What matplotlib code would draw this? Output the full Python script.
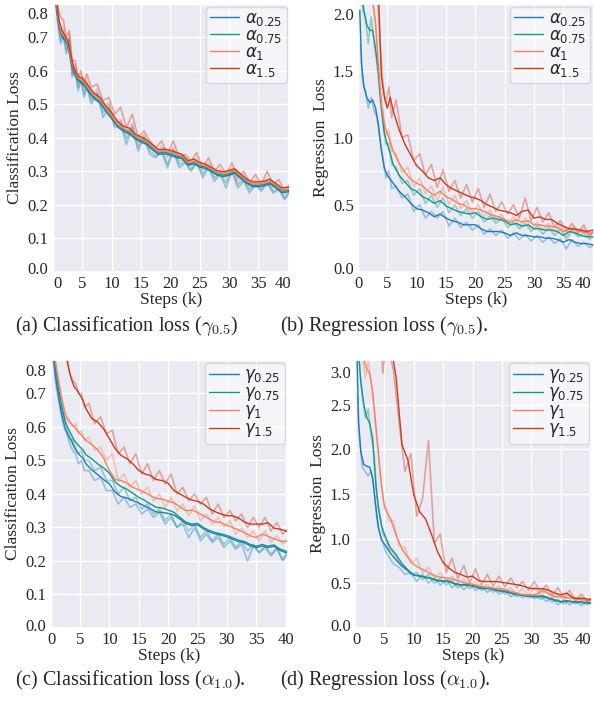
import matplotlib.pyplot as plt
import numpy as np
import seaborn as sns
from matplotlib.ticker import MultipleLocator
from matplotlib.transforms import ScaledTranslation

# training steps (k) for the smoothed curves
steps = [0.3, 0.6, 1.0, 1.5, 2.0, 2.5, 3.0, 3.5, 4.0, 4.5, 5.0, 5.5,
         6, 7, 8, 9, 10, 11, 12, 13, 14, 15, 16, 17,
         18, 19, 20, 21, 22, 23, 24, 25, 26, 27, 28, 29,
         30, 31, 32, 33, 34, 35, 36, 37, 38, 39, 40, 41]
# training steps (k) for the raw (unsmoothed) curves
raw_steps = [0.45, 0.8, 1.25, 1.75, 2.25, 2.75, 3.25, 3.75, 4.25, 4.75, 5.25, 5.75,
             6.5, 7.5, 8.5, 9.5, 10.5, 11.5, 12.5, 13.5, 14.5, 15.5, 16.5, 17.5,
             18.5, 19.5, 20.5, 21.5, 22.5, 23.5, 24.5, 25.5, 26.5, 27.5, 28.5, 29.5,
             30.5, 31.5, 32.5, 33.5, 34.5, 35.5, 36.5, 37.5, 38.5, 39.5, 40.5, 41.5]

# (a) classification loss, alpha sweep
cls_a025 = [0.84, 0.78, 0.73, 0.70, 0.69, 0.675, 0.63, 0.594, 0.576, 0.566, 0.56, 0.55,
            0.538, 0.516, 0.503, 0.478, 0.456, 0.432, 0.419, 0.411, 0.396, 0.387, 0.379, 0.363,
            0.35, 0.352, 0.347, 0.341, 0.337, 0.318, 0.322, 0.312, 0.308, 0.298, 0.288, 0.284,
            0.288, 0.294, 0.278, 0.264, 0.254, 0.254, 0.256, 0.262, 0.25, 0.236, 0.238, 0.242]
cls_a075 = [0.85, 0.79, 0.735, 0.705, 0.695, 0.68, 0.635, 0.598, 0.58, 0.57, 0.565, 0.554,
            0.543, 0.52, 0.507, 0.482, 0.46, 0.436, 0.423, 0.415, 0.40, 0.392, 0.383, 0.367,
            0.354, 0.357, 0.351, 0.345, 0.341, 0.322, 0.326, 0.316, 0.312, 0.302, 0.292, 0.288,
            0.292, 0.298, 0.282, 0.268, 0.258, 0.258, 0.26, 0.266, 0.254, 0.24, 0.242, 0.246]
cls_a1 = [0.86, 0.80, 0.74, 0.71, 0.70, 0.685, 0.64, 0.605, 0.585, 0.575, 0.57, 0.56,
          0.548, 0.525, 0.512, 0.488, 0.465, 0.44, 0.428, 0.42, 0.405, 0.396, 0.388, 0.372,
          0.358, 0.362, 0.356, 0.35, 0.345, 0.326, 0.33, 0.32, 0.316, 0.306, 0.296, 0.292,
          0.296, 0.302, 0.286, 0.272, 0.262, 0.262, 0.264, 0.27, 0.258, 0.244, 0.246, 0.25]
cls_a15 = [0.87, 0.81, 0.75, 0.72, 0.705, 0.69, 0.65, 0.61, 0.59, 0.58, 0.578, 0.566,
           0.555, 0.532, 0.52, 0.494, 0.474, 0.448, 0.434, 0.428, 0.41, 0.402, 0.393, 0.378,
           0.364, 0.366, 0.362, 0.356, 0.35, 0.331, 0.336, 0.326, 0.321, 0.311, 0.301, 0.298,
           0.302, 0.307, 0.291, 0.277, 0.268, 0.268, 0.27, 0.276, 0.263, 0.25, 0.252, 0.256]
cls_a025_raw = [0.80, 0.74, 0.68, 0.70, 0.65, 0.69, 0.58, 0.60, 0.54, 0.57, 0.52, 0.55,
                0.50, 0.53, 0.46, 0.49, 0.43, 0.44, 0.38, 0.43, 0.36, 0.40, 0.35, 0.34,
                0.36, 0.31, 0.36, 0.31, 0.325, 0.30, 0.325, 0.28, 0.31, 0.27, 0.29, 0.25,
                0.30, 0.25, 0.27, 0.235, 0.26, 0.24, 0.265, 0.235, 0.245, 0.215, 0.24, 0.23]
cls_a075_raw = [0.81, 0.75, 0.69, 0.71, 0.66, 0.70, 0.59, 0.61, 0.55, 0.58, 0.53, 0.56,
                0.51, 0.535, 0.475, 0.50, 0.44, 0.45, 0.395, 0.435, 0.37, 0.405, 0.36, 0.345,
                0.365, 0.32, 0.365, 0.32, 0.33, 0.305, 0.33, 0.29, 0.315, 0.28, 0.295, 0.265,
                0.305, 0.26, 0.275, 0.245, 0.265, 0.245, 0.27, 0.24, 0.25, 0.22, 0.245, 0.235]
cls_a1_raw = [0.82, 0.76, 0.70, 0.73, 0.67, 0.71, 0.60, 0.62, 0.56, 0.59, 0.54, 0.575,
              0.52, 0.545, 0.49, 0.505, 0.45, 0.455, 0.41, 0.445, 0.38, 0.41, 0.37, 0.355,
              0.375, 0.34, 0.37, 0.33, 0.335, 0.315, 0.34, 0.30, 0.325, 0.29, 0.305, 0.28,
              0.31, 0.27, 0.285, 0.255, 0.275, 0.25, 0.28, 0.25, 0.26, 0.23, 0.255, 0.24]
cls_a15_raw = [0.84, 0.79, 0.76, 0.75, 0.70, 0.72, 0.63, 0.63, 0.58, 0.60, 0.56, 0.59,
               0.55, 0.56, 0.51, 0.52, 0.47, 0.49, 0.43, 0.47, 0.40, 0.42, 0.39, 0.37,
               0.39, 0.35, 0.39, 0.34, 0.35, 0.33, 0.355, 0.31, 0.34, 0.30, 0.32, 0.29,
               0.325, 0.28, 0.30, 0.265, 0.29, 0.26, 0.30, 0.26, 0.275, 0.24, 0.265, 0.25]

# (b) regression loss, alpha sweep
reg_a025 = [1.95, 1.55, 1.38, 1.30, 1.26, 1.28, 1.22, 1.09, 0.90, 0.77, 0.72, 0.69,
            0.66, 0.60, 0.56, 0.51, 0.47, 0.46, 0.44, 0.41, 0.43, 0.40, 0.38, 0.37,
            0.35, 0.35, 0.35, 0.32, 0.30, 0.30, 0.30, 0.29, 0.27, 0.29, 0.27, 0.27,
            0.26, 0.26, 0.25, 0.25, 0.24, 0.22, 0.24, 0.22, 0.21, 0.21, 0.20, 0.21]
reg_a075 = [2.3, 2.1, 1.95, 1.84, 1.80, 1.80, 1.66, 1.47, 1.22, 1.03, 0.95, 0.88,
            0.80, 0.72, 0.67, 0.62, 0.60, 0.56, 0.54, 0.51, 0.53, 0.49, 0.47, 0.45,
            0.44, 0.43, 0.44, 0.41, 0.39, 0.40, 0.39, 0.38, 0.35, 0.36, 0.34, 0.35,
            0.32, 0.32, 0.31, 0.31, 0.30, 0.27, 0.30, 0.29, 0.27, 0.26, 0.26, 0.27]
reg_a1 = [2.6, 2.4, 2.3, 2.2, 2.1, 2.02, 1.85, 1.52, 1.25, 1.10, 1.03, 0.97,
          0.90, 0.81, 0.74, 0.69, 0.66, 0.64, 0.60, 0.57, 0.60, 0.56, 0.54, 0.51,
          0.50, 0.47, 0.47, 0.46, 0.44, 0.42, 0.41, 0.39, 0.37, 0.39, 0.37, 0.38,
          0.35, 0.35, 0.34, 0.34, 0.33, 0.30, 0.32, 0.31, 0.30, 0.29, 0.29, 0.30]
reg_a15 = [3.0, 2.8, 2.6, 2.5, 2.4, 2.3, 2.2, 2.05, 1.45, 1.30, 1.22, 1.30,
           1.20, 1.06, 0.95, 0.87, 0.79, 0.75, 0.70, 0.68, 0.70, 0.65, 0.62, 0.60,
           0.58, 0.56, 0.55, 0.53, 0.50, 0.48, 0.46, 0.45, 0.44, 0.42, 0.45, 0.46,
           0.40, 0.41, 0.39, 0.39, 0.36, 0.34, 0.32, 0.32, 0.31, 0.30, 0.31, 0.30]
reg_a025_raw = [1.70, 1.42, 1.35, 1.22, 1.30, 1.20, 1.15, 0.98, 0.85, 0.70, 0.75, 0.62,
                0.64, 0.55, 0.58, 0.45, 0.50, 0.40, 0.45, 0.40, 0.45, 0.34, 0.40, 0.33,
                0.37, 0.31, 0.35, 0.28, 0.32, 0.27, 0.31, 0.25, 0.29, 0.24, 0.28, 0.23,
                0.27, 0.22, 0.26, 0.21, 0.25, 0.17, 0.24, 0.19, 0.22, 0.18, 0.21, 0.20]
reg_a075_raw = [2.2, 1.95, 1.90, 1.70, 1.90, 1.70, 1.55, 1.30, 1.10, 0.95, 0.96, 0.80,
                0.78, 0.66, 0.68, 0.57, 0.62, 0.51, 0.57, 0.48, 0.55, 0.44, 0.50, 0.42,
                0.47, 0.40, 0.45, 0.37, 0.42, 0.36, 0.40, 0.33, 0.37, 0.32, 0.36, 0.30,
                0.34, 0.28, 0.33, 0.27, 0.32, 0.24, 0.31, 0.26, 0.29, 0.24, 0.28, 0.26]
reg_a1_raw = [2.5, 2.35, 2.2, 2.15, 2.05, 1.95, 1.70, 1.35, 1.20, 1.02, 1.06, 0.90,
              0.88, 0.74, 0.78, 0.63, 0.70, 0.58, 0.64, 0.53, 0.63, 0.50, 0.57, 0.47,
              0.53, 0.44, 0.50, 0.41, 0.46, 0.38, 0.43, 0.35, 0.41, 0.34, 0.40, 0.32,
              0.37, 0.31, 0.36, 0.30, 0.35, 0.26, 0.34, 0.28, 0.32, 0.27, 0.31, 0.28]
reg_a15_raw = [2.9, 2.7, 2.55, 2.45, 2.35, 2.25, 2.15, 1.70, 1.40, 1.25, 1.38, 1.15,
               1.28, 1.00, 1.02, 0.83, 0.88, 0.72, 0.80, 0.63, 0.76, 0.60, 0.68, 0.55,
               0.65, 0.52, 0.62, 0.48, 0.58, 0.45, 0.52, 0.43, 0.50, 0.40, 0.55, 0.38,
               0.48, 0.37, 0.44, 0.33, 0.38, 0.30, 0.36, 0.29, 0.35, 0.26, 0.34, 0.29]

# (c) classification loss, gamma sweep
cls_g025 = [0.85, 0.79, 0.73, 0.675, 0.63, 0.595, 0.575, 0.56, 0.54, 0.525, 0.515, 0.507,
            0.49, 0.472, 0.458, 0.443, 0.43, 0.405, 0.392, 0.388, 0.38, 0.373, 0.364, 0.355,
            0.346, 0.345, 0.342, 0.337, 0.325, 0.312, 0.306, 0.308, 0.296, 0.287, 0.281, 0.277,
            0.272, 0.265, 0.258, 0.254, 0.245, 0.24, 0.245, 0.24, 0.244, 0.232, 0.225, 0.23]
cls_g075 = [0.86, 0.80, 0.755, 0.70, 0.655, 0.615, 0.595, 0.578, 0.56, 0.55, 0.54, 0.532,
            0.517, 0.505, 0.49, 0.478, 0.462, 0.435, 0.422, 0.414, 0.402, 0.39, 0.381, 0.37,
            0.36, 0.358, 0.352, 0.345, 0.33, 0.316, 0.31, 0.312, 0.30, 0.291, 0.285, 0.281,
            0.276, 0.269, 0.262, 0.258, 0.249, 0.244, 0.249, 0.244, 0.248, 0.236, 0.229, 0.234]
cls_g1 = [0.88, 0.82, 0.775, 0.72, 0.675, 0.635, 0.618, 0.61, 0.60, 0.59, 0.58, 0.57,
          0.56, 0.548, 0.532, 0.508, 0.47, 0.443, 0.44, 0.432, 0.42, 0.412, 0.405, 0.395,
          0.386, 0.385, 0.378, 0.374, 0.362, 0.35, 0.352, 0.345, 0.335, 0.326, 0.316, 0.315,
          0.306, 0.30, 0.292, 0.285, 0.275, 0.27, 0.28, 0.274, 0.266, 0.26, 0.258, 0.262]
cls_g15 = [0.98, 0.95, 0.92, 0.89, 0.86, 0.83, 0.78, 0.745, 0.72, 0.71, 0.695, 0.68,
           0.655, 0.625, 0.615, 0.595, 0.565, 0.535, 0.515, 0.505, 0.49, 0.47, 0.46, 0.455,
           0.443, 0.44, 0.432, 0.41, 0.40, 0.39, 0.382, 0.378, 0.37, 0.356, 0.347, 0.34,
           0.335, 0.335, 0.328, 0.316, 0.31, 0.31, 0.31, 0.314, 0.298, 0.295, 0.29, 0.28]
cls_g025_raw = [0.80, 0.74, 0.69, 0.64, 0.60, 0.58, 0.55, 0.53, 0.52, 0.49, 0.50, 0.47,
                0.47, 0.44, 0.45, 0.41, 0.41, 0.37, 0.39, 0.36, 0.37, 0.34, 0.355, 0.33,
                0.345, 0.31, 0.33, 0.30, 0.31, 0.27, 0.30, 0.26, 0.28, 0.255, 0.27, 0.24,
                0.26, 0.235, 0.25, 0.20, 0.245, 0.225, 0.24, 0.215, 0.235, 0.20, 0.225, 0.22]
cls_g075_raw = [0.82, 0.76, 0.72, 0.66, 0.63, 0.60, 0.57, 0.56, 0.54, 0.52, 0.53, 0.50,
                0.50, 0.47, 0.48, 0.44, 0.44, 0.40, 0.42, 0.38, 0.39, 0.355, 0.37, 0.34,
                0.355, 0.32, 0.34, 0.30, 0.32, 0.29, 0.31, 0.27, 0.29, 0.26, 0.28, 0.25,
                0.27, 0.24, 0.26, 0.23, 0.25, 0.225, 0.245, 0.22, 0.24, 0.205, 0.23, 0.22]
cls_g1_raw = [0.85, 0.80, 0.75, 0.70, 0.66, 0.63, 0.62, 0.60, 0.61, 0.58, 0.59, 0.56,
              0.57, 0.53, 0.54, 0.50, 0.52, 0.44, 0.46, 0.42, 0.44, 0.40, 0.42, 0.38,
              0.40, 0.36, 0.39, 0.35, 0.37, 0.335, 0.365, 0.32, 0.34, 0.31, 0.33, 0.30,
              0.32, 0.28, 0.30, 0.27, 0.29, 0.26, 0.29, 0.255, 0.275, 0.25, 0.27, 0.255]
cls_g15_raw = [0.97, 0.94, 0.90, 0.87, 0.85, 0.81, 0.76, 0.74, 0.73, 0.70, 0.70, 0.66,
               0.67, 0.61, 0.63, 0.58, 0.59, 0.52, 0.54, 0.49, 0.52, 0.46, 0.49, 0.44,
               0.47, 0.43, 0.46, 0.40, 0.42, 0.38, 0.40, 0.37, 0.39, 0.34, 0.37, 0.33,
               0.35, 0.32, 0.34, 0.30, 0.33, 0.30, 0.33, 0.29, 0.315, 0.28, 0.30, 0.275]

# (d) regression loss, gamma sweep
reg_g025 = [3.2, 2.3, 1.97, 1.83, 1.81, 1.80, 1.68, 1.38, 1.12, 0.99, 0.94, 0.89,
            0.84, 0.76, 0.69, 0.64, 0.59, 0.58, 0.565, 0.55, 0.53, 0.52, 0.52, 0.49,
            0.48, 0.48, 0.47, 0.45, 0.44, 0.44, 0.42, 0.41, 0.40, 0.38, 0.37, 0.36,
            0.35, 0.35, 0.35, 0.33, 0.31, 0.29, 0.30, 0.29, 0.29, 0.28, 0.28, 0.29]
reg_g075 = [3.5, 3.1, 2.75, 2.5, 2.36, 2.29, 2.12, 1.64, 1.34, 1.15, 1.05, 0.97,
            0.90, 0.82, 0.72, 0.65, 0.595, 0.585, 0.57, 0.555, 0.535, 0.525, 0.525, 0.495,
            0.485, 0.485, 0.475, 0.455, 0.445, 0.445, 0.425, 0.415, 0.405, 0.385, 0.375, 0.365,
            0.355, 0.355, 0.36, 0.335, 0.315, 0.295, 0.305, 0.295, 0.295, 0.285, 0.285, 0.29]
reg_g1 = [3.6, 3.3, 3.1, 3.0, 2.9, 2.85, 2.65, 2.3, 1.95, 1.60, 1.36, 1.29,
          1.23, 1.04, 0.88, 0.79, 0.71, 0.67, 0.64, 0.60, 0.575, 0.565, 0.555, 0.54,
          0.52, 0.50, 0.49, 0.47, 0.46, 0.45, 0.44, 0.44, 0.42, 0.40, 0.38, 0.37,
          0.37, 0.38, 0.42, 0.38, 0.35, 0.35, 0.34, 0.33, 0.32, 0.31, 0.31, 0.30]
reg_g15 = [3.8, 3.8, 3.7, 3.7, 3.6, 3.6, 3.5, 3.5, 3.4, 3.4, 3.3, 3.3,
           3.2, 2.8, 2.05, 1.88, 1.49, 1.30, 1.22, 1.05, 0.86, 0.73, 0.67, 0.62,
           0.60, 0.57, 0.58, 0.53, 0.52, 0.52, 0.52, 0.51, 0.50, 0.49, 0.48, 0.46,
           0.44, 0.44, 0.44, 0.42, 0.39, 0.37, 0.39, 0.34, 0.33, 0.33, 0.32, 0.31]
reg_g025_raw = [2.6, 2.1, 1.80, 1.75, 1.70, 1.76, 1.55, 1.20, 1.05, 0.95, 0.85, 0.80,
                0.72, 0.68, 0.60, 0.62, 0.52, 0.60, 0.50, 0.56, 0.48, 0.54, 0.45, 0.50,
                0.43, 0.49, 0.42, 0.46, 0.40, 0.45, 0.38, 0.42, 0.35, 0.39, 0.34, 0.37,
                0.33, 0.36, 0.30, 0.33, 0.26, 0.31, 0.26, 0.30, 0.25, 0.30, 0.25, 0.28]
reg_g075_raw = [3.3, 2.9, 2.6, 2.35, 2.45, 2.15, 1.95, 1.45, 1.25, 1.05, 1.00, 0.88,
                0.85, 0.74, 0.68, 0.60, 0.62, 0.54, 0.60, 0.50, 0.56, 0.48, 0.53, 0.45,
                0.51, 0.44, 0.48, 0.42, 0.46, 0.40, 0.44, 0.38, 0.41, 0.35, 0.38, 0.34,
                0.37, 0.32, 0.35, 0.29, 0.32, 0.27, 0.31, 0.27, 0.30, 0.26, 0.29, 0.27]
reg_g1_raw = [3.4, 3.2, 3.05, 2.8, 3.0, 2.75, 2.45, 2.1, 1.75, 1.45, 1.35, 1.20,
              1.20, 0.92, 0.90, 0.72, 0.78, 0.62, 0.68, 0.56, 0.62, 0.53, 0.58, 0.50,
              0.55, 0.47, 0.52, 0.45, 0.49, 0.43, 0.47, 0.41, 0.45, 0.38, 0.44, 0.36,
              0.46, 0.36, 0.42, 0.33, 0.38, 0.31, 0.37, 0.30, 0.35, 0.29, 0.33, 0.30]
reg_g15_raw = [3.7, 3.7, 3.6, 3.6, 3.5, 3.5, 3.4, 3.4, 3.3, 2.85, 3.2, 3.1,
               2.9, 2.3, 1.75, 1.95, 1.25, 1.45, 2.1, 0.95, 1.05, 0.62, 0.78, 0.55,
               0.70, 0.50, 0.66, 0.48, 0.60, 0.47, 0.58, 0.46, 0.56, 0.45, 0.52, 0.42,
               0.52, 0.40, 0.48, 0.37, 0.45, 0.34, 0.42, 0.31, 0.38, 0.29, 0.36, 0.30]

alpha_labels = [r"$\alpha_{0.25}$", r"$\alpha_{0.75}$", r"$\alpha_{1}$", r"$\alpha_{1.5}$"]
gamma_labels = [r"$\gamma_{0.25}$", r"$\gamma_{0.75}$", r"$\gamma_{1}$", r"$\gamma_{1.5}$"]
x_ticks = [0, 5, 10, 15, 20, 25, 30, 35, 40]

# one colour per setting: 0.25, 0.75, 1, 1.5
colors = ["#1f7bbf", "#15998a", "#f7825e", "#cf3a1a"]

sns.set_theme(style="darkgrid")
plt.rcParams["font.family"] = ["Liberation Serif", "DejaVu Serif"]
plt.rcParams["mathtext.fontset"] = "dejavusans"

fig = plt.figure(figsize=(5.94, 7.04), dpi=100)


def shift(label, dx, dy):
    # move a tick label by a few pixels
    label.set_transform(label.get_transform()
                        + ScaledTranslation(dx / 100, dy / 100, fig.dpi_scale_trans))


def draw_panel(rect, mains, raws, labels, ylabel, xlim, ylim, yticks, ylabels, shifts):
    ax = fig.add_axes(rect)
    for raw, c in zip(raws, colors):
        ax.plot(raw_steps, raw, color=c, linewidth=1.2, alpha=0.4)
    for y, c, lab in zip(mains, colors, labels):
        ax.plot(steps, y, color=c, linewidth=1.0, label=lab)

    ax.set_xlim(*xlim)
    ax.set_ylim(*ylim)
    ax.set_xticks(x_ticks)
    ax.set_yticks(yticks)
    ax.set_yticklabels(ylabels)
    ax.tick_params(labelsize=12, pad=3, length=0)
    ax.set_xlabel("Steps (k)", fontsize=12.5, labelpad=0)
    ax.set_ylabel(ylabel, fontsize=12.5, labelpad=3)

    leg = ax.legend(loc="upper right", fontsize=12, labelspacing=0.0,
                    handlelength=1.75, handletextpad=0.35, borderpad=0.25,
                    borderaxespad=0.2, frameon=True, fancybox=True)
    leg.get_frame().set_facecolor("white")
    leg.get_frame().set_alpha(0.55)
    leg.get_frame().set_edgecolor("#c4c4c4")

    # end tick labels sit a little inside the plot in the original
    xl = ax.get_xticklabels()
    yl = ax.get_yticklabels()
    shift(xl[0], shifts[0], 0)
    shift(xl[-1], shifts[1], 0)
    shift(yl[0], 0, shifts[2])
    shift(yl[-1], 0, shifts[3])
    return ax


ax_a = draw_panel([0.0875, 0.614, 0.4007, 0.381],
                  [cls_a025, cls_a075, cls_a1, cls_a15],
                  [cls_a025_raw, cls_a075_raw, cls_a1_raw, cls_a15_raw],
                  alpha_labels, "Classification Loss",
                  (-0.2, 40.4), (0, 0.8),
                  [0, 0.1, 0.2, 0.3, 0.4, 0.5, 0.6, 0.7, 0.8],
                  ["0.0", "0.1", "0.2", "0.3", "0.4", "0.5", "0.6", "0.7", "0.8"],
                  (4, -5, 4, -9))

ax_b = draw_panel([0.6027, 0.614, 0.397, 0.381],
                  [reg_a025, reg_a075, reg_a1, reg_a15],
                  [reg_a025_raw, reg_a075_raw, reg_a1_raw, reg_a15_raw],
                  alpha_labels, "Regression  Loss",
                  (0.1, 40.2), (0, 2.0),
                  [0, 0.5, 1.0, 1.5, 2.0],
                  ["0.0", "0.5", "1.0", "1.5", "2.0"],
                  (0, -10, 4, -10))
ax_b.yaxis.set_minor_locator(MultipleLocator(0.25))
ax_b.tick_params(which="minor", length=0)
ax_b.grid(True, which="minor", axis="y", color="white", linewidth=1.0)

ax_c = draw_panel([0.0842, 0.108, 0.4007, 0.3807],
                  [cls_g025, cls_g075, cls_g1, cls_g15],
                  [cls_g025_raw, cls_g075_raw, cls_g1_raw, cls_g15_raw],
                  gamma_labels, "Classification Loss",
                  (-0.1, 40.4), (0, 0.8),
                  [0, 0.1, 0.2, 0.3, 0.4, 0.5, 0.6, 0.7, 0.8],
                  ["0.0", "0.1", "0.2", "0.3", "0.4", "0.5", "0.6", "0.7", "0.8"],
                  (1, 0, 3, -10))

ax_d = draw_panel([0.5976, 0.108, 0.399, 0.3807],
                  [reg_g025, reg_g075, reg_g1, reg_g15],
                  [reg_g025_raw, reg_g075_raw, reg_g1_raw, reg_g15_raw],
                  gamma_labels, "Regression  Loss",
                  (0.1, 40.3), (0, 3.0),
                  [0, 0.5, 1.0, 1.5, 2.0, 2.5, 3.0],
                  ["0.0", "0.5", "1.0", "1.5", "2.0", "2.5", "3.0"],
                  (2, -7, 3, -12))

# sub-figure captions
cap = dict(fontsize=14.5, ha="left", va="baseline", math_fontfamily="cm")
fig.text(15 / 594, 1 - 331 / 704, r"(a) Classification loss ($\gamma_{0.5}$)", **cap)
fig.text(280 / 594, 1 - 331 / 704, r"(b) Regression loss ($\gamma_{0.5}$).", **cap)
fig.text(15 / 594, 1 - 685 / 704, r"(c) Classification loss ($\alpha_{1.0}$).", **cap)
fig.text(280 / 594, 1 - 685 / 704, r"(d) Regression loss ($\alpha_{1.0}$).", **cap)

fig.savefig("out.png", dpi=100)
plt.close(fig)
